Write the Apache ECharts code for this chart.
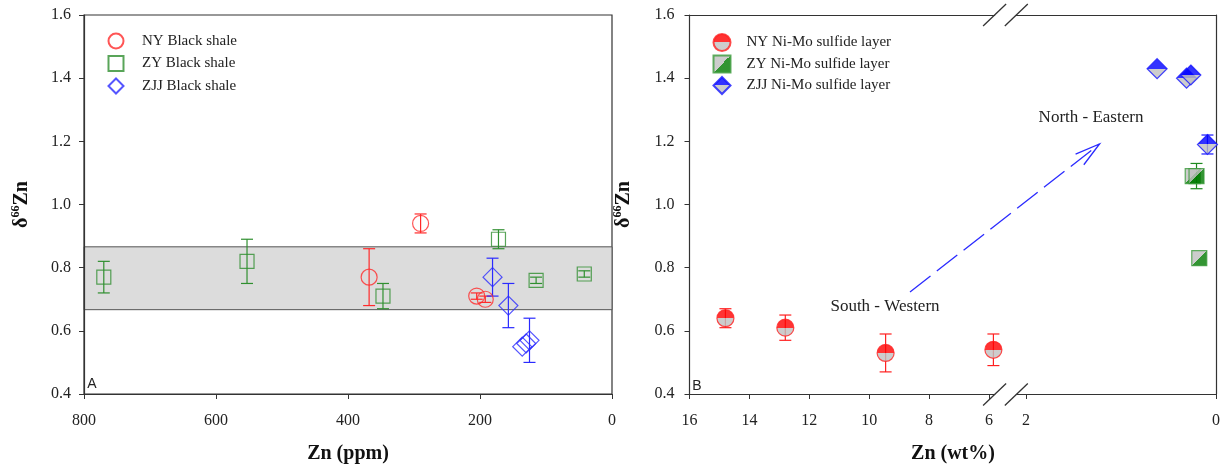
<!DOCTYPE html>
<html>
<head>
<meta charset="utf-8">
<script src="https://cdn.jsdelivr.net/npm/echarts@6/dist/echarts.min.js"></script>
<style>
  html, body { margin: 0; padding: 0; background: #fff; }
  #chart { width: 1223px; height: 470px; }
</style>
</head>
<body>
<div id="chart"></div>
<script>
// ---------- Panel A: black shale, Zn in ppm ----------
const shaleNames = ['NY Black shale', 'ZY Black shale', 'ZJJ Black shale'];
const nyShaleZn  = [290, 368, 205, 192];
const nyShaleD   = [0.94, 0.77, 0.71, 0.70];
const nyShaleErr = [0.03, 0.09, 0.01, 0.01];
const zyShaleZn  = [770, 553, 347, 172, 115, 42];
const zyShaleD   = [0.77, 0.82, 0.71, 0.89, 0.76, 0.78];
const zyShaleErr = [0.05, 0.07, 0.04, 0.03, 0.01, 0.01];
const zjjShaleZn  = [181, 157, 136, 130, 125];
const zjjShaleD   = [0.77, 0.68, 0.55, 0.56, 0.57];
const zjjShaleErr = [0.06, 0.07, 0, 0, 0.07];
const shaleBand = [0.667, 0.866];

// ---------- Panel B: Ni-Mo sulfide layer, Zn in wt% ----------
const sulfideNames = ['NY Ni-Mo sulfide layer', 'ZY Ni-Mo sulfide layer', 'ZJJ Ni-Mo sulfide layer'];
const nySulfZn  = [14.8, 12.8, 9.45, 5.85];
const nySulfD   = [0.64, 0.61, 0.53, 0.54];
const nySulfErr = [0.03, 0.04, 0.06, 0.05];
const zySulfZn  = [0.245, 0.205, 0.176];
const zySulfD   = [1.09, 1.09, 0.83];
const zySulfErr = [0, 0.04, 0];
const zjjSulfZn  = [0.62, 0.31, 0.265, 0.09];
const zjjSulfD   = [1.43, 1.40, 1.41, 1.19];
const zjjSulfErr = [0, 0, 0, 0.03];

// broken x axis of panel B: high segment and low segment
const wtHighTicks = [6, 8, 10, 12, 14, 16];
const wtLowTicks  = [0, 2];
const wtHighRange = [5.81, 16];
const wtLowRange  = [0, 2.102];

const SERIF = 'Liberation Serif';
const AXIS_COLOR = '#333';
const GRAY = '#c0c0c0';

const zip = (xs, ys) => xs.map((x, i) => [x, ys[i]]);
const zip3 = (xs, ys, es) => xs.map((x, i) => [x, ys[i], es[i]]);

function halfFill(top, bottom, diagonal) {
  return {
    type: 'linear', x: 0, y: 0, x2: diagonal ? 1 : 0, y2: 1,
    colorStops: [
      { offset: 0, color: top }, { offset: 0.5, color: top },
      { offset: 0.5, color: bottom }, { offset: 1, color: bottom }
    ]
  };
}

function errorBars(name, xi, yi, data, color) {
  return {
    type: 'custom', name: name, xAxisIndex: xi, yAxisIndex: yi, z: 1,
    silent: true, data: data,
    renderItem: function (params, api) {
      const x = api.value(0), y = api.value(1), e = api.value(2);
      if (!e) return null;
      const t = api.coord([x, y + e]), b = api.coord([x, y - e]);
      const hw = 6;
      const st = { stroke: color, lineWidth: 1.2 };
      return {
        type: 'group',
        children: [
          { type: 'line', shape: { x1: t[0], y1: t[1], x2: b[0], y2: b[1] }, style: st },
          { type: 'line', shape: { x1: t[0] - hw, y1: t[1], x2: t[0] + hw, y2: t[1] }, style: st },
          { type: 'line', shape: { x1: b[0] - hw, y1: b[1], x2: b[0] + hw, y2: b[1] }, style: st }
        ]
      };
    }
  };
}

const yName = '{d|δ}{s|66}{z|Zn}';
const yNameStyle = {
  fontFamily: SERIF, fontWeight: 'bold', fontSize: 20, color: '#111',
  rich: {
    d: { fontFamily: SERIF, fontWeight: 'bold', fontSize: 20, color: '#111', lineHeight: 24 },
    s: { fontFamily: SERIF, fontWeight: 'bold', fontSize: 12, color: '#111', verticalAlign: 'top', lineHeight: 24 },
    z: { fontFamily: SERIF, fontWeight: 'bold', fontSize: 20, color: '#111', lineHeight: 24 }
  }
};

function deltaAxis(grid, opts) {
  return Object.assign({
    type: 'value', gridIndex: grid, min: 0.4, max: 1.6, interval: 0.2,
    axisLine: { show: true, onZero: false, lineStyle: { color: AXIS_COLOR, width: 1.2 } },
    axisTick: { show: true, inside: false, length: 5, lineStyle: { color: AXIS_COLOR } },
    axisLabel: { show: true, margin: 13, fontFamily: SERIF, fontSize: 16, color: '#222',
                 formatter: v => v.toFixed(1) },
    splitLine: { show: false }
  }, opts);
}

function frameAxis(grid, range, position) {
  return {
    type: 'value', gridIndex: grid, position: position, min: range[0], max: range[1], inverse: true,
    axisLine: { show: true, onZero: false, lineStyle: { color: AXIS_COLOR, width: 1.2 } },
    axisTick: { show: false }, axisLabel: { show: false }, splitLine: { show: false }
  };
}

function wtAxis(grid, range, ticks) {
  return {
    type: 'value', gridIndex: grid, position: 'bottom', min: range[0], max: range[1], inverse: true,
    axisLine: { show: true, onZero: false, lineStyle: { color: AXIS_COLOR, width: 1.2 } },
    axisTick: { show: true, length: 5, customValues: ticks, lineStyle: { color: AXIS_COLOR } },
    axisLabel: { show: true, margin: 19, customValues: ticks, fontFamily: SERIF, fontSize: 16, color: '#222' },
    splitLine: { show: false }
  };
}

// break marks and direction arrow of panel B
const breakMarks = [994.6, 1016.3];
const arrowFrom = [910, 292];
const arrowTo = [1099.5, 144];

function arrowHead(from, to, len, ang) {
  const a = Math.atan2(from[1] - to[1], from[0] - to[0]);
  const p1 = [to[0] + len * Math.cos(a + ang), to[1] + len * Math.sin(a + ang)];
  const p2 = [to[0] + len * Math.cos(a - ang), to[1] + len * Math.sin(a - ang)];
  return [p1, to, p2];
}

const graphics = [];
breakMarks.forEach(x => {
  [15, 394.5].forEach(y => {
    graphics.push({ type: 'line', shape: { x1: x - 11.5, y1: y + 11, x2: x + 11.5, y2: y - 11 },
                    style: { stroke: '#333', lineWidth: 1.3 } });
  });
});
graphics.push({ type: 'line', shape: { x1: arrowFrom[0], y1: arrowFrom[1], x2: arrowTo[0], y2: arrowTo[1] },
                style: { stroke: '#2b2bff', lineWidth: 1.3, lineDash: [26, 8] } });
graphics.push({ type: 'polyline', shape: { points: arrowHead(arrowFrom, arrowTo, 26, 0.26) },
                style: { stroke: '#2b2bff', lineWidth: 1.3, fill: null } });
graphics.push({ type: 'text', x: 1091, y: 118, style: { text: 'North - Eastern', font: '17px "Liberation Serif"',
                fill: '#222', align: 'center', verticalAlign: 'middle' } });
graphics.push({ type: 'text', x: 885, y: 307, style: { text: 'South - Western', font: '17px "Liberation Serif"',
                fill: '#222', align: 'center', verticalAlign: 'middle' } });
graphics.push({ type: 'text', x: 92, y: 384, style: { text: 'A', font: '14px "Liberation Sans"',
                fill: '#222', align: 'center', verticalAlign: 'middle' } });
graphics.push({ type: 'text', x: 697, y: 386, style: { text: 'B', font: '14px "Liberation Sans"',
                fill: '#222', align: 'center', verticalAlign: 'middle' } });
graphics.push({ type: 'text', x: 953, y: 454, style: { text: 'Zn (wt%)', font: 'bold 20px "Liberation Serif"',
                fill: '#111', align: 'center', verticalAlign: 'middle' } });

const chart = echarts.init(document.getElementById('chart'), null, { renderer: 'canvas' });

const option = {
  animation: false,
  backgroundColor: '#fff',
  grid: [
    { left: 84, top: 15, width: 528, height: 379, show: true, borderColor: AXIS_COLOR, borderWidth: 1.2,
      backgroundColor: 'transparent' },
    { left: 689.5, top: 15, width: 305.1, height: 379 },
    { left: 1016.3, top: 15, width: 199.7, height: 379 }
  ],
  xAxis: [
    { type: 'value', gridIndex: 0, min: 0, max: 800, interval: 200, inverse: true,
      name: 'Zn (ppm)', nameLocation: 'middle', nameGap: 50,
      nameTextStyle: { fontFamily: SERIF, fontWeight: 'bold', fontSize: 20, color: '#111' },
      axisLine: { show: true, onZero: false, lineStyle: { color: AXIS_COLOR, width: 1.2 } },
      axisTick: { show: true, length: 5, lineStyle: { color: AXIS_COLOR } },
      axisLabel: { margin: 19, fontFamily: SERIF, fontSize: 16, color: '#222' },
      splitLine: { show: false } },
    wtAxis(1, wtHighRange, wtHighTicks),
    frameAxis(1, wtHighRange, 'top'),
    wtAxis(2, wtLowRange, wtLowTicks),
    frameAxis(2, wtLowRange, 'top')
  ],
  yAxis: [
    deltaAxis(0, { name: yName, nameLocation: 'middle', nameGap: 50, nameTextStyle: yNameStyle }),
    deltaAxis(1, { name: yName, nameLocation: 'middle', nameGap: 54, nameTextStyle: yNameStyle,
                   axisLabel: { show: true, margin: 15, fontFamily: SERIF, fontSize: 16, color: '#222',
                                formatter: v => v.toFixed(1) } }),
    deltaAxis(2, { position: 'right', axisTick: { show: false }, axisLabel: { show: false } })
  ],
  legend: [
    { data: shaleNames, orient: 'vertical', left: 107.5, top: 32.5, padding: 0,
      itemWidth: 15, itemHeight: 15, itemGap: 5.5,
      textStyle: { fontFamily: SERIF, fontSize: 15, color: '#222', padding: [0, 0, 0, 13.5] },
      selectedMode: false },
    { data: sulfideNames, orient: 'vertical', left: 712.5, top: 33, padding: 0,
      itemWidth: 17, itemHeight: 17, itemGap: 2.5,
      textStyle: { fontFamily: SERIF, fontSize: 15, color: '#222', padding: [0, 0, 0, 11] },
      selectedMode: false }
  ],
  graphic: graphics,
  series: [
    // panel A
    errorBars('NY shale err', 0, 0, zip3(nyShaleZn, nyShaleD, nyShaleErr), '#ff2a2a'),
    errorBars('ZY shale err', 0, 0, zip3(zyShaleZn, zyShaleD, zyShaleErr), '#2f8f2f'),
    errorBars('ZJJ shale err', 0, 0, zip3(zjjShaleZn, zjjShaleD, zjjShaleErr), '#2a2aff'),
    { type: 'scatter', name: shaleNames[0], xAxisIndex: 0, yAxisIndex: 0, z: 3,
      symbol: 'circle', symbolSize: 16, data: zip(nyShaleZn, nyShaleD),
      itemStyle: { color: 'rgba(255,255,255,0)', borderColor: '#ff2a2a', borderWidth: 1.2 },
      emphasis: { disabled: true },
      markArea: { silent: true, z: 0,
        itemStyle: { color: '#dcdcdc', borderColor: '#555', borderWidth: 1 },
        data: [[{ yAxis: shaleBand[0] }, { yAxis: shaleBand[1] }]] } },
    { type: 'scatter', name: shaleNames[1], xAxisIndex: 0, yAxisIndex: 0, z: 3,
      symbol: 'rect', symbolSize: 14, data: zip(zyShaleZn, zyShaleD),
      itemStyle: { color: 'rgba(255,255,255,0)', borderColor: '#2f8f2f', borderWidth: 1.2 },
      emphasis: { disabled: true } },
    { type: 'scatter', name: shaleNames[2], xAxisIndex: 0, yAxisIndex: 0, z: 3,
      symbol: 'diamond', symbolSize: 19, data: zip(zjjShaleZn, zjjShaleD),
      itemStyle: { color: 'rgba(255,255,255,0)', borderColor: '#2a2aff', borderWidth: 1.2 },
      emphasis: { disabled: true } },
    // panel B
    errorBars('NY sulfide err', 1, 1, zip3(nySulfZn, nySulfD, nySulfErr), '#ff2020'),
    errorBars('ZY sulfide err', 3, 2, zip3(zySulfZn, zySulfD, zySulfErr), '#1f8a1f'),
    errorBars('ZJJ sulfide err', 3, 2, zip3(zjjSulfZn, zjjSulfD, zjjSulfErr), '#1515ff'),
    { type: 'scatter', name: sulfideNames[0], xAxisIndex: 1, yAxisIndex: 1, z: 3, clip: false,
      symbol: 'circle', symbolSize: 17, data: zip(nySulfZn, nySulfD),
      itemStyle: { color: halfFill('#ff0000', GRAY, false), borderColor: '#ff2020', borderWidth: 1.2 },
      emphasis: { disabled: true } },
    { type: 'scatter', name: sulfideNames[1], xAxisIndex: 3, yAxisIndex: 2, z: 3, clip: false,
      symbol: 'rect', symbolSize: 15, data: zip(zySulfZn, zySulfD),
      itemStyle: { color: halfFill(GRAY, '#007a00', true), borderColor: '#3a9a3a', borderWidth: 1.2 },
      emphasis: { disabled: true } },
    { type: 'scatter', name: sulfideNames[2], xAxisIndex: 3, yAxisIndex: 2, z: 3, clip: false,
      symbol: 'diamond', symbolSize: 20, data: zip(zjjSulfZn, zjjSulfD),
      itemStyle: { color: halfFill('#0000ff', GRAY, false), borderColor: '#1515ff', borderWidth: 1.2 },
      emphasis: { disabled: true } }
  ]
};

chart.setOption(option);
</script>
</body>
</html>
